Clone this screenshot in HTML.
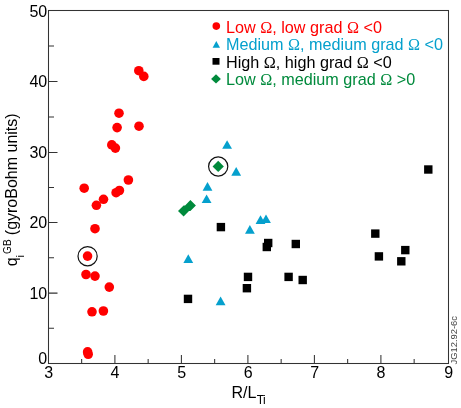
<!DOCTYPE html><html><head><meta charset="utf-8"><style>html,body{margin:0;padding:0;background:#fff;overflow:hidden}svg{display:block;will-change:transform}</style></head><body>
<svg width="461" height="408" viewBox="0 0 461 408" font-family="Liberation Sans, sans-serif">
<rect x="48.5" y="10.5" width="400.0" height="353.0" fill="none" stroke="#333" stroke-width="1.05"/>
<path d="M114.90 363.5V355.1 M181.40 363.5V355.1 M247.90 363.5V355.1 M314.40 363.5V355.1 M380.90 363.5V355.1 M81.65 363.5V359.0 M148.15 363.5V359.0 M214.65 363.5V359.0 M281.15 363.5V359.0 M347.65 363.5V359.0 M414.15 363.5V359.0 M48.5 81.4H57.5 M48.5 152.5H57.5 M48.5 222.4H57.5 M48.5 293.1H57.5 M48.5 46.0H54.0 M48.5 117.0H54.0 M48.5 187.5H54.0 M48.5 257.8H54.0 M48.5 328.2H54.0" stroke="#333" stroke-width="1.05" fill="none"/>
<g font-size="16" fill="#000">
<text x="47.2" y="16.8" text-anchor="end">50</text>
<text x="47.2" y="87.2" text-anchor="end">40</text>
<text x="47.2" y="158.3" text-anchor="end">30</text>
<text x="47.2" y="228.2" text-anchor="end">20</text>
<text x="47.2" y="298.9" text-anchor="end">10</text>
<text x="47.2" y="363.6" text-anchor="end">0</text>
<text x="48.8" y="377.8" text-anchor="middle">3</text>
<text x="115.0" y="377.8" text-anchor="middle">4</text>
<text x="181.7" y="377.8" text-anchor="middle">5</text>
<text x="248.2" y="377.8" text-anchor="middle">6</text>
<text x="314.8" y="377.8" text-anchor="middle">7</text>
<text x="381.0" y="377.8" text-anchor="middle">8</text>
<text x="448.7" y="377.8" text-anchor="middle">9</text>
</g>
<text x="231.4" y="397.8" font-size="16">R/L<tspan font-size="12" dy="5.7" dx="0.5" letter-spacing="-0.7">Ti</tspan></text>
<g transform="translate(17.3,0) rotate(-90)"><text x="-266.3" y="0" font-size="16">q</text><text x="-257.4" y="6.3" font-size="11.5">i</text><text x="-253.9" y="-6.7" font-size="10">GB</text><text x="-235.2" y="0" font-size="16">(gyroBohm units)</text></g>
<text transform="translate(457.1,364.5) rotate(-90) scale(1,0.96)" font-size="9.4" fill="#444">JG12.92-6c</text>
<g fill="#ff0000"><circle cx="138.8" cy="70.7" r="4.8"/><circle cx="143.8" cy="76.4" r="4.8"/><circle cx="119" cy="113.2" r="4.8"/><circle cx="117.1" cy="127.6" r="4.8"/><circle cx="139" cy="126.2" r="4.8"/><circle cx="111.8" cy="144.9" r="4.8"/><circle cx="115.4" cy="148.1" r="4.8"/><circle cx="128.4" cy="180" r="4.8"/><circle cx="84.2" cy="188.2" r="4.8"/><circle cx="116.1" cy="192.7" r="4.8"/><circle cx="119.4" cy="190.5" r="4.8"/><circle cx="103.5" cy="199.3" r="4.8"/><circle cx="96.4" cy="205.3" r="4.8"/><circle cx="95" cy="228.7" r="4.8"/><circle cx="87.55" cy="256.1" r="4.8"/><circle cx="86" cy="274.5" r="4.8"/><circle cx="95" cy="276.1" r="4.8"/><circle cx="109.3" cy="287.1" r="4.8"/><circle cx="92" cy="311.8" r="4.8"/><circle cx="103.4" cy="311" r="4.8"/><circle cx="87.6" cy="351.9" r="4.8"/><circle cx="88.2" cy="354.3" r="4.8"/></g>
<g fill="#05a0cd"><path d="M227.1 140.2L232.00 148.80L222.20 148.80Z"/><path d="M236.2 167.1L241.10 175.70L231.30 175.70Z"/><path d="M207.5 182.1L212.40 190.70L202.60 190.70Z"/><path d="M206.6 194.4L211.50 203.00L201.70 203.00Z"/><path d="M249.9 225.1L254.80 233.70L245.00 233.70Z"/><path d="M260.5 215.3L265.40 223.90L255.60 223.90Z"/><path d="M266 214.5L270.90 223.10L261.10 223.10Z"/><path d="M188.3 254.3L193.20 262.90L183.40 262.90Z"/><path d="M220.6 296.6L225.50 305.20L215.70 305.20Z"/></g>
<g fill="#000"><rect x="216.70" y="222.90" width="8.4" height="8.4"/><rect x="264.00" y="238.80" width="8.4" height="8.4"/><rect x="262.60" y="242.80" width="8.4" height="8.4"/><rect x="291.60" y="239.80" width="8.4" height="8.4"/><rect x="243.80" y="272.70" width="8.4" height="8.4"/><rect x="242.70" y="284.00" width="8.4" height="8.4"/><rect x="284.40" y="272.70" width="8.4" height="8.4"/><rect x="298.50" y="275.80" width="8.4" height="8.4"/><rect x="183.80" y="294.70" width="8.4" height="8.4"/><rect x="371.10" y="229.40" width="8.4" height="8.4"/><rect x="374.70" y="252.20" width="8.4" height="8.4"/><rect x="401.10" y="245.90" width="8.4" height="8.4"/><rect x="397.10" y="257.10" width="8.4" height="8.4"/><rect x="424.10" y="165.30" width="8.4" height="8.4"/></g>
<g fill="#008a3c"><path d="M218.2 160.75L223.85 166.4L218.2 172.05L212.55 166.4Z"/><path d="M178 211L183.6 205.4L185.1 205.4L190.4 200.1L195.9 205.6L190.4 211.1L189 211.1L183.6 216.6Z"/></g>
<circle cx="87.6" cy="256.2" r="9.6" fill="none" stroke="#111" stroke-width="1.2"/>
<circle cx="218.2" cy="166.5" r="9.6" fill="none" stroke="#111" stroke-width="1.2"/>
<g font-size="16.2">
<text x="226.0" y="32.8" fill="#ff0000">Low <tspan font-family="Liberation Serif, serif">Ω</tspan>, low grad <tspan font-family="Liberation Serif, serif">Ω</tspan> &lt;0</text>
<text x="226.0" y="50.2" fill="#05a0cd">Medium <tspan font-family="Liberation Serif, serif">Ω</tspan>, medium grad <tspan font-family="Liberation Serif, serif">Ω</tspan> &lt;0</text>
<text x="226.0" y="67.8" fill="#000">High <tspan font-family="Liberation Serif, serif">Ω</tspan>, high grad <tspan font-family="Liberation Serif, serif">Ω</tspan> &lt;0</text>
<text x="226.0" y="85.3" fill="#008a3c">Low <tspan font-family="Liberation Serif, serif">Ω</tspan>, medium grad <tspan font-family="Liberation Serif, serif">Ω</tspan> &gt;0</text>
</g>
<circle cx="216.3" cy="26.1" r="3.8" fill="#ff0000"/>
<path d="M216.3 40.9L220 47.8L212.6 47.8Z" fill="#05a0cd"/>
<rect x="212.5" y="58" width="7" height="6.7" fill="#000"/>
<path d="M216 74.2L220.9 78.9L216 83.6L211.1 78.9Z" fill="#008a3c"/>
</svg></body></html>
